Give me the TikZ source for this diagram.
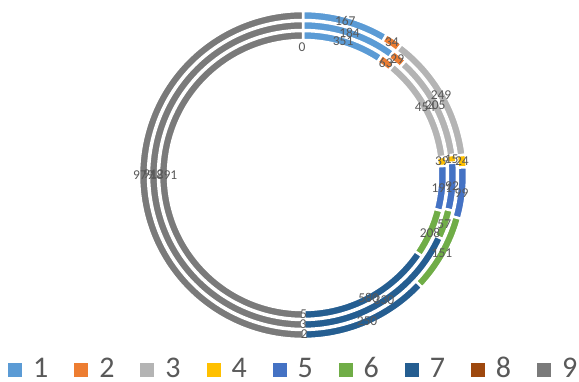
\documentclass[tikz,border=0pt]{standalone}
\usepackage{fontspec}
\setmainfont{Carlito}
\usetikzlibrary{calc}
\definecolor{c1}{HTML}{5B9BD5}
\definecolor{c2}{HTML}{ED7D31}
\definecolor{c3}{HTML}{B4B4B4}
\definecolor{c4}{HTML}{FFC000}
\definecolor{c5}{HTML}{4472C4}
\definecolor{c6}{HTML}{70AD47}
\definecolor{c7}{HTML}{255E91}
\definecolor{c8}{HTML}{9E480E}
\definecolor{c9}{HTML}{7A7A7A}
\definecolor{lblgray}{HTML}{595959}
\tikzset{
	seg/.style={draw=white, line width=2.5pt},
	lbl/.style={text=lblgray, inner sep=0pt, font=\fontsize{13.5}{14}\selectfont},
	legsq/.style={minimum size=14pt, inner sep=0pt, anchor=south west},
	legtxt/.style={text=lblgray, inner sep=0pt, anchor=base west, font=\fontsize{30}{32}\selectfont}
}
\def\donutseg[#1](#2:#3)(#4:#5:#6){\pgfmathsetmacro\segA{90-360*(#4/#6)}\pgfmathsetmacro\segB{90-360*(#5/#6)}\draw[seg, fill=#1] ($(ctr)+(\segA:#3pt)$) arc[start angle=\segA, end angle=\segB, radius=#3pt] -- ($(ctr)+(\segB:#2pt)$) arc[start angle=\segB, end angle=\segA, radius=#2pt] -- cycle;}
\def\donutlbl(#1)(#2:#3:#4)#5#6{\pgfmathsetmacro\segM{90-180*((#2+#3)/#4)}\node[lbl] (#5) at ($(ctr)+(\segM:#1pt)$) {#6};}

\begin{document}
\begin{tikzpicture}[x=1pt, y=1pt]
			%%%%% START %%%%%
			\useasboundingbox (0, 0) rectangle (579, 382);
			\coordinate (ctr) at (303, 207);
			
			% outer ring
			\donutseg[c1](155:164)(0:167:1955)
			\donutseg[c2](155:164)(167:201:1955)
			\donutseg[c3](155:164)(201:450:1955)
			\donutseg[c4](155:164)(450:474:1955)
			\donutseg[c5](155:164)(474:573:1955)
			\donutseg[c6](155:164)(573:724:1955)
			\donutseg[c7](155:164)(724:974:1955)
			\donutseg[c8](155:164)(974:976:1955)
			\donutseg[c9](155:164)(976:1955:1955)
			
			% middle ring
			\donutseg[c1](145:154)(0:184:1827)
			\donutseg[c2](145:154)(184:213:1827)
			\donutseg[c3](145:154)(213:418:1827)
			\donutseg[c4](145:154)(418:433:1827)
			\donutseg[c5](145:154)(433:525:1827)
			\donutseg[c6](145:154)(525:582:1827)
			\donutseg[c7](145:154)(582:912:1827)
			\donutseg[c8](145:154)(912:915:1827)
			\donutseg[c9](145:154)(915:1827:1827)
			
			% inner ring
			\donutseg[c1](135:144)(0:351:3782)
			\donutseg[c2](135:144)(351:414:3782)
			\donutseg[c3](135:144)(414:868:3782)
			\donutseg[c4](135:144)(868:907:3782)
			\donutseg[c5](135:144)(907:1098:3782)
			\donutseg[c6](135:144)(1098:1306:3782)
			\donutseg[c7](135:144)(1306:1886:3782)
			\donutseg[c8](135:144)(1886:1891:3782)
			\donutseg[c9](135:144)(1891:3782:3782)
			
			% labels
			\donutlbl(139.5)(0:351:3782){i1}{351}
			\donutlbl(139.5)(351:414:3782){i2}{63}
			\donutlbl(139.5)(414:868:3782){i3}{454}
			\donutlbl(139.5)(868:907:3782){i4}{39}
			\donutlbl(139.5)(907:1098:3782){i5}{191}
			\donutlbl(139.5)(1098:1306:3782){i6}{208}
			\donutlbl(139.5)(1306:1886:3782){i7}{580}
			\donutlbl(139.5)(1886:1891:3782){i8}{5}
			\donutlbl(139.5)(1891:3782:3782){i9}{1891}
			
			\donutlbl(149.5)(0:184:1827){m1}{184}
			\donutlbl(149.5)(184:213:1827){m2}{29}
			\donutlbl(149.5)(213:418:1827){m3}{205}
			\donutlbl(149.5)(418:433:1827){m4}{15}
			\donutlbl(149.5)(433:525:1827){m5}{92}
			\donutlbl(149.5)(525:582:1827){m6}{57}
			\donutlbl(149.5)(582:912:1827){m7}{330}
			\donutlbl(149.5)(912:915:1827){m8}{3}
			\donutlbl(149.5)(915:1827:1827){m9}{912}
			
			\donutlbl(159.5)(0:167:1955){o1}{167}
			\donutlbl(159.5)(167:201:1955){o2}{34}
			\donutlbl(159.5)(201:450:1955){o3}{249}
			\donutlbl(159.5)(450:474:1955){o4}{24}
			\donutlbl(159.5)(474:573:1955){o5}{99}
			\donutlbl(159.5)(573:724:1955){o6}{151}
			\donutlbl(159.5)(724:974:1955){o7}{250}
			\donutlbl(159.5)(974:976:1955){o8}{2}
			\donutlbl(159.5)(976:1955:1955){o9}{979}
			
			\node[lbl] (z0) at (302, 335) {0};
			
			% legend
			\node[legsq, fill=c1] (sq1) at (8, 5) {};
			\node[legtxt] (lg1) at (33, 4) {1};
			\node[legsq, fill=c2] (sq2) at (74.1, 5) {};
			\node[legtxt] (lg2) at (99.1, 4) {2};
			\node[legsq, fill=c3] (sq3) at (140.2, 5) {};
			\node[legtxt] (lg3) at (165.2, 4) {3};
			\node[legsq, fill=c4] (sq4) at (206.3, 5) {};
			\node[legtxt] (lg4) at (231.3, 4) {4};
			\node[legsq, fill=c5] (sq5) at (272.4, 5) {};
			\node[legtxt] (lg5) at (297.4, 4) {5};
			\node[legsq, fill=c6] (sq6) at (338.5, 5) {};
			\node[legtxt] (lg6) at (363.5, 4) {6};
			\node[legsq, fill=c7] (sq7) at (404.6, 5) {};
			\node[legtxt] (lg7) at (429.6, 4) {7};
			\node[legsq, fill=c8] (sq8) at (470.7, 5) {};
			\node[legtxt] (lg8) at (495.7, 4) {8};
			\node[legsq, fill=c9] (sq9) at (536.8, 5) {};
			\node[legtxt] (lg9) at (561.8, 4) {9};
			%%%%% END %%%%%
		\end{tikzpicture}
\end{document}
